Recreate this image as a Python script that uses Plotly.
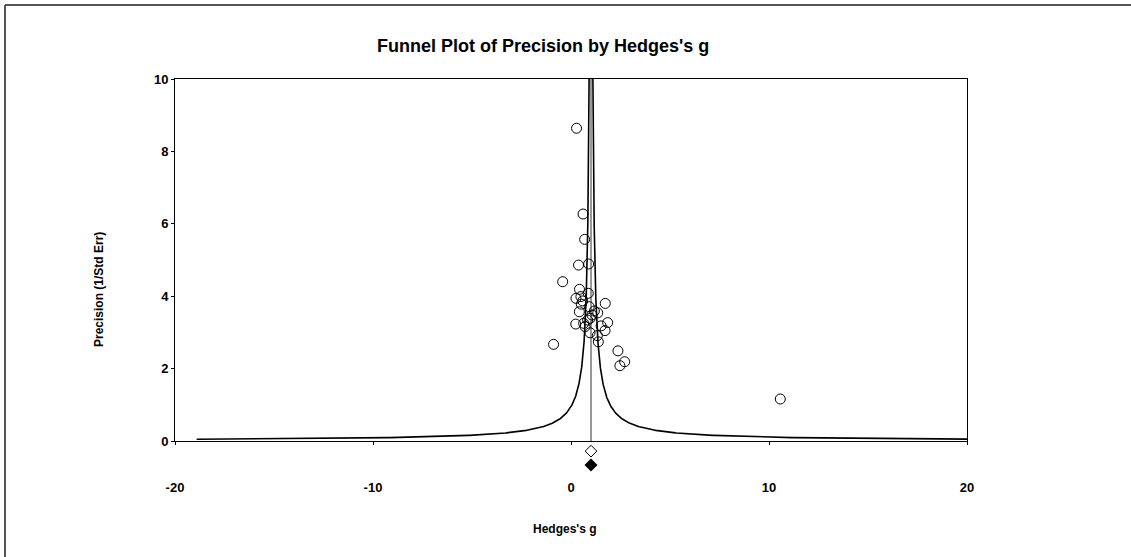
import numpy as np
import plotly.graph_objects as go

# Study effect sizes (Hedges's g) and precision (1/SE)
hedges_g = [0.28, 0.61, 0.69, 0.38, 0.89, -0.42, 0.43, 0.87, 0.25, 0.50,
            0.59, 0.52, 1.73, 0.92, 1.18, 1.35, 0.42, 1.06, 0.97, 0.84,
            0.24, 0.64, 0.71, 1.85, 1.52, 1.72, 0.96, 1.33, 1.38, -0.88,
            2.37, 2.71, 2.47, 10.57]
precision = [8.64, 6.27, 5.57, 4.86, 4.89, 4.40, 4.19, 4.08, 3.94, 3.99,
             3.87, 3.78, 3.80, 3.71, 3.59, 3.54, 3.57, 3.48, 3.39, 3.34,
             3.23, 3.25, 3.16, 3.27, 3.18, 3.05, 2.99, 2.91, 2.74, 2.67,
             2.49, 2.19, 2.08, 1.16]

# Combined estimates (observed = open diamond, adjusted = filled diamond)
pooled_observed = [1.01]
pooled_adjusted = [1.01]
diamond_rows = [-0.28, -0.66]   # strip just below the axis

# Funnel limit factor (half-width x precision)
funnel_factor = 0.96
funnel_prec_min = 0.0482
funnel_prec_max = 10

x_ticks = [-20, -10, 0, 10, 20]
y_ticks = [0, 2, 4, 6, 8, 10]

prec_line = np.geomspace(funnel_prec_min, funnel_prec_max, 500)
left_limit = pooled_observed[0] - funnel_factor / prec_line
right_limit = pooled_observed[0] + funnel_factor / prec_line

FONT = "Liberation Sans, Arial, sans-serif"

fig = go.Figure()

fig.add_trace(go.Scatter(x=[pooled_observed[0], pooled_observed[0]], y=[0, 10],
                         mode="lines", line=dict(color="#333333", width=1),
                         hoverinfo="skip", showlegend=False))
fig.add_trace(go.Scatter(x=left_limit, y=prec_line, mode="lines",
                         line=dict(color="black", width=1.6), showlegend=False))
fig.add_trace(go.Scatter(x=right_limit, y=prec_line, mode="lines",
                         line=dict(color="black", width=1.6), showlegend=False))
fig.add_trace(go.Scatter(x=hedges_g, y=precision, mode="markers",
                         marker=dict(symbol="circle-open", size=10, color="black",
                                     line=dict(width=1)),
                         showlegend=False))
fig.add_trace(go.Scatter(x=pooled_observed, y=[diamond_rows[0]], mode="markers",
                         marker=dict(symbol="diamond-open", size=9, color="black",
                                     line=dict(width=1)),
                         xaxis="x", yaxis="y2", showlegend=False))
fig.add_trace(go.Scatter(x=pooled_adjusted, y=[diamond_rows[1]], mode="markers",
                         marker=dict(symbol="diamond", size=10, color="black"),
                         xaxis="x", yaxis="y2", showlegend=False))

W, H = 1131, 557
L, R, T = 175, 164, 79
AX_BOTTOM = 441      # pixel row of the x axis
STRIP_BOTTOM = 475   # bottom of the diamond strip
B = H - STRIP_BOTTOM
pw, ph = W - L - R, STRIP_BOTTOM - T
split = (STRIP_BOTTOM - AX_BOTTOM) / ph

def px_x(p):
    return (p - L) / pw

def px_y(p):
    return (STRIP_BOTTOM - p) / ph

fig.update_layout(
    width=W, height=H,
    margin=dict(l=L, r=R, t=T, b=B),
    paper_bgcolor="white", plot_bgcolor="white",
    font=dict(family=FONT, size=13, color="black"),
    showlegend=False,
    xaxis=dict(range=[-20, 20], tickvals=x_ticks, ticktext=[str(v) for v in x_ticks],
               anchor="y",
               showgrid=False, zeroline=False, showline=True, mirror=True,
               linecolor="black", linewidth=1, ticks="outside", ticklen=3,
               tickcolor="black", ticklabelstandoff=31,
               tickfont=dict(family=FONT, size=13, color="black", weight="bold")),
    yaxis=dict(range=[0, 10], domain=[split, 1], tickvals=y_ticks,
               ticktext=[str(v) for v in y_ticks],
               showgrid=False, zeroline=False, showline=True, mirror=True,
               linecolor="black", linewidth=1, ticks="outside", ticklen=3,
               tickcolor="black",
               tickfont=dict(family=FONT, size=13, color="black", weight="bold")),
    yaxis2=dict(range=[-(STRIP_BOTTOM - AX_BOTTOM) / 36.2, 0], domain=[0, split],
                anchor="x", visible=False, showgrid=False, zeroline=False),
    annotations=[
        dict(text="<b>Funnel Plot of Precision by Hedges's g</b>", xref="paper", yref="paper",
             x=px_x(543), y=px_y(46), showarrow=False, xanchor="center", yanchor="middle",
             font=dict(family=FONT, size=18, color="black")),
        dict(text="<b>Hedges's g</b>", xref="paper", yref="paper",
             x=px_x(565), y=px_y(529), showarrow=False, xanchor="center", yanchor="middle",
             font=dict(family=FONT, size=12, color="black")),
        dict(text="<b>Precision (1/Std Err)</b>", xref="paper", yref="paper",
             x=px_x(99), y=px_y(290), showarrow=False, xanchor="center", yanchor="middle",
             textangle=-90, font=dict(family=FONT, size=12, color="black")),
    ],
    shapes=[
        dict(type="line", xref="paper", yref="paper", x0=px_x(5), x1=px_x(5),
             y0=px_y(5), y1=px_y(570), line=dict(color="#555555", width=2)),
        dict(type="line", xref="paper", yref="paper", x0=px_x(5), x1=px_x(1140),
             y0=px_y(5), y1=px_y(5), line=dict(color="#555555", width=2)),
    ],
)

fig.write_html("out.html")
